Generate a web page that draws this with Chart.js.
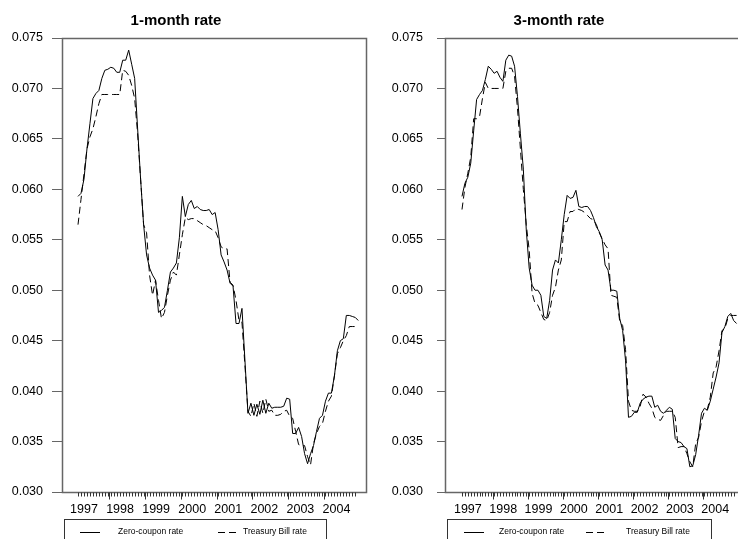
<!DOCTYPE html>
<html>
<head>
<meta charset="utf-8">
<script src="https://cdn.jsdelivr.net/npm/chart.js@4/dist/chart.umd.min.js"></script>
<style>
  html, body { margin: 0; padding: 0; background: #fff; overflow: hidden; width: 738px; height: 539px; }
  body { position: relative; font-family: "Liberation Sans", Arial, sans-serif; }
  canvas { position: absolute; top: 0; }
  #cL { left: 0; }
  #cR { left: 368px; }
  .title { position: absolute; top: 11px; font-weight: bold; font-size: 15px; transform: translateX(-50%); white-space: nowrap; color: #000; }
  .legend { position: absolute; top: 519px; height: 30px; border: 1px solid #333; font-size: 8.5px; color: #000; }
  .legend span { position: absolute; top: 6px; white-space: nowrap; }
  .legend .solid { position: absolute; top: 12px; width: 20px; border-top: 1px solid #000; }
  .legend svg { position: absolute; top: 9px; }
</style>
</head>
<body>

<canvas id="cL" width="368" height="539"></canvas>
<canvas id="cR" width="384" height="539"></canvas>

<div class="title" style="left:176px">1-month rate</div>
<div class="title" style="left:559px">3-month rate</div>

<div class="legend" style="left:64px; width:261px">
  <div class="solid" style="left:15px"></div><span style="left:53px">Zero-coupon rate</span>
  <svg style="left:153px" width="20" height="6"><line x1="0" y1="3.5" x2="20" y2="3.5" stroke="#000" stroke-width="1" stroke-dasharray="7,4"/></svg>
  <span style="left:178px">Treasury Bill rate</span>
</div>
<div class="legend" style="left:447px; width:263px">
  <div class="solid" style="left:16px"></div><span style="left:51px">Zero-coupon rate</span>
  <svg style="left:138px" width="20" height="6"><line x1="0" y1="3.5" x2="20" y2="3.5" stroke="#000" stroke-width="1" stroke-dasharray="7,4"/></svg>
  <span style="left:178px">Treasury Bill rate</span>
</div>

<script>
/* ── Monthly observations, index 0 = first month shown ── */
const months = Array.from({ length: 95 }, (_, i) => i);

const oneMonthZero = [
  0.0593, 0.0596, 0.0610, 0.0640, 0.0665, 0.0690, 0.0695, 0.0698, 0.0710, 0.0718,
  0.0719, 0.0721, 0.0720, 0.0716, 0.0716, 0.0728, 0.0728, 0.0738, 0.0724, 0.0710,
  0.0660, 0.0610, 0.0565, 0.0535, 0.0522, 0.0515, 0.0510, 0.0478, 0.0480, 0.0483,
  0.0500, 0.0518, 0.0522, 0.0527, 0.0552, 0.0593, 0.0573, 0.0585, 0.0589, 0.0581,
  0.0583, 0.0580, 0.0579, 0.0579, 0.0580, 0.0575, 0.0577, 0.0560, 0.0535, 0.0528,
  0.0520, 0.0507, 0.0504, 0.0467, 0.0467, 0.0482, 0.0430, 0.0378, 0.0388, 0.0376,
  0.0387, 0.0377, 0.0391, 0.0378, 0.0388, 0.0383, 0.0384, 0.0384, 0.0384, 0.0385,
  0.0393, 0.0392, 0.0358, 0.0358, 0.0364, 0.0355, 0.0338, 0.0328, 0.0338, 0.0346,
  0.0360, 0.0373, 0.0376, 0.0390, 0.0398, 0.0398, 0.0415, 0.0440, 0.0450, 0.0452,
  0.0475, 0.0475, 0.0474, 0.0473, 0.0470
];
const oneMonthBill = [
  0.0565, 0.0590, 0.0615, 0.0640, 0.0652, 0.0660, 0.0672, 0.0685, 0.0694, 0.0694,
  0.0694, 0.0694, 0.0694, 0.0694, 0.0694, 0.0718, 0.0717, 0.0713, 0.0703, 0.0690,
  0.0655, 0.0610, 0.0565, 0.0557, 0.0515, 0.0495, 0.0510, 0.0490, 0.0472, 0.0478,
  0.0495, 0.0510, 0.0518, 0.0515, 0.0535, 0.0555, 0.0572, 0.0570, 0.0571, 0.0571,
  0.0569, 0.0567, 0.0565, 0.0564, 0.0562, 0.0560, 0.0559, 0.0552, 0.0543, 0.0541,
  0.0541, 0.0508, 0.0505, 0.0490, 0.0470, 0.0468, 0.0425, 0.0380, 0.0375, 0.0388,
  0.0375, 0.0390, 0.0378, 0.0392, 0.0380, 0.0381, 0.0376, 0.0376, 0.0377, 0.0380,
  0.0381, 0.0375, 0.0373, 0.0360, 0.0347, 0.0346, 0.0346, 0.0335, 0.0327, 0.0348,
  0.0358, 0.0365, 0.0368, 0.0380, 0.0390, 0.0395, 0.0415, 0.0437, 0.0443, 0.0450,
  0.0455, 0.0464, 0.0464, 0.0464, 0.0464
];
const threeMonthZero = [
  0.0593, 0.0606, 0.0612, 0.0626, 0.0658, 0.0689, 0.0694, 0.0698, 0.0709, 0.0722,
  0.0719, 0.0715, 0.0717, 0.0711, 0.0707, 0.0728, 0.0733, 0.0732, 0.0722, 0.0692,
  0.0655, 0.0620, 0.0560, 0.0522, 0.0505, 0.0500, 0.0500, 0.0495, 0.0474, 0.0472,
  0.0490, 0.0520, 0.0530, 0.0527, 0.0550, 0.0575, 0.0594, 0.0591, 0.0592, 0.0599,
  0.0583, 0.0582, 0.0583, 0.0583, 0.0579, 0.0572, 0.0563, 0.0558, 0.0550, 0.0525,
  0.0520, 0.0500, 0.0500, 0.0499, 0.0472, 0.0460, 0.0430, 0.0374, 0.0375, 0.0379,
  0.0379, 0.0388, 0.0392, 0.0394, 0.0395, 0.0395, 0.0384, 0.0386, 0.0380, 0.0378,
  0.0381, 0.0384, 0.0382, 0.0353, 0.0350, 0.0349, 0.0345, 0.0343, 0.0325, 0.0326,
  0.0337, 0.0356, 0.0378, 0.0383, 0.0381, 0.0390, 0.0402, 0.0414, 0.0428, 0.0458,
  0.0464, 0.0474, 0.0477, 0.0470, 0.0467
];
const threeMonthBill = [
  0.0580, 0.0602, 0.0616, 0.0632, 0.0670, 0.0670, 0.0672, 0.0690, 0.0706, 0.0700,
  0.0700, 0.0700, 0.0700, 0.0700, 0.0700, 0.0717, 0.0720, 0.0720, 0.0712, 0.0680,
  0.0640, 0.0600, 0.0565, 0.0540, 0.0497, 0.0487, 0.0485, 0.0478, 0.0471, 0.0470,
  0.0478, 0.0495, 0.0503, 0.0520, 0.0530, 0.0568, 0.0568, 0.0578, 0.0578, 0.0581,
  0.0580, 0.0579, 0.0577, 0.0574, 0.0571, 0.0570, 0.0565, 0.0557, 0.0551, 0.0545,
  0.0541, 0.0495, 0.0494, 0.0493, 0.0469, 0.0465, 0.0441, 0.0390, 0.0381, 0.0380,
  0.0380, 0.0385, 0.0397, 0.0394, 0.0388, 0.0383, 0.0374, 0.0372, 0.0371, 0.0376,
  0.0380, 0.0380, 0.0380, 0.0374, 0.0344, 0.0345, 0.0345, 0.0338, 0.0330, 0.0325,
  0.0348, 0.0354, 0.0370, 0.0380, 0.0382, 0.0394, 0.0418, 0.0424, 0.0440, 0.0460,
  0.0462, 0.0472, 0.0475, 0.0475, 0.0475
];

/* ── Axis labels ── */
const yearLabels   = ['1997', '1998', '1999', '2000', '2001', '2002', '2003', '2004'];
const yearLabelPos = [2, 14.1, 26.2, 38.3, 50.4, 62.5, 74.6, 86.7];   // in months
const majorTickPos = [10.5, 22.5, 34.5, 46.5, 58.5, 70.5, 82.5];
const minorTickPos = Array.from({ length: 94 }, (_, i) => i);
const yTicks       = [0.030, 0.035, 0.040, 0.045, 0.050, 0.055, 0.060, 0.065, 0.070, 0.075];

const FONT = "'Liberation Sans', Arial, sans-serif";
const FRAME = '#666';

/* ── Box round the plot area + monthly tick marks on the time axis ── */
const framePlugin = {
  id: 'frame',
  afterDraw(chart) {
    const { ctx, chartArea: a, scales } = chart;
    ctx.save();
    ctx.strokeStyle = FRAME;
    ctx.lineWidth = 1.5;
    ctx.strokeRect(Math.round(a.left) + 0.5, Math.round(a.top) + 0.5,
                   Math.round(a.right - a.left), Math.round(a.bottom - a.top));
    const xs = scales.x;
    const base = Math.round(a.bottom) + 0.5;
    ctx.lineWidth = 1;
    ctx.strokeStyle = '#333';
    ctx.beginPath();
    minorTickPos.forEach(t => {
      const px = Math.round(xs.getPixelForValue(t)) + 0.5;
      ctx.moveTo(px, base); ctx.lineTo(px, base + 4);
    });
    majorTickPos.forEach(t => {
      const px = Math.round(xs.getPixelForValue(t)) + 0.5;
      ctx.moveTo(px, base); ctx.lineTo(px, base + 7);
    });
    ctx.stroke();
    ctx.restore();
  },
};

function series(values, dashed) {
  return {
    data: months.map((m, i) => ({ x: m, y: values[i] })),
    borderColor: '#000',
    borderWidth: 1,
    borderDash: dashed ? [7, 4] : [],
    pointRadius: 0,
    tension: 0,
    fill: false,
  };
}

function buildPanel(id, zero, bill, opt) {
  new Chart(document.getElementById(id), {
    type: 'line',
    data: { datasets: [series(zero, false), series(bill, true)] },
    plugins: [framePlugin],
    options: {
      responsive: false,
      animation: false,
      layout: { padding: { left: 0, top: 38, right: opt.padRight, bottom: 0 } },
      plugins: { legend: { display: false }, tooltip: { enabled: false } },
      scales: {
        x: {
          type: 'linear',
          min: opt.xMin,
          max: opt.xMax,
          afterFit: s => { s.height = 47; },
          afterBuildTicks: s => { s.ticks = yearLabelPos.map(v => ({ value: v })); },
          grid: { display: false },
          border: { display: false },
          ticks: {
            autoSkip: false,
            maxRotation: 0,
            padding: 2,
            color: '#000',
            font: { family: FONT, size: 12.5 },
            callback: (v, i) => yearLabels[i],
          },
        },
        y: {
          min: 0.030,
          max: 0.075,
          afterFit: s => { s.width = opt.yWidth; },
          afterBuildTicks: s => { s.ticks = yTicks.map(v => ({ value: v })); },
          grid: { drawOnChartArea: false, drawTicks: true, tickLength: opt.tickLen, color: FRAME },
          border: { display: false },
          ticks: {
            padding: opt.tickPad,
            color: '#000',
            font: { family: FONT, size: 12.5 },
            callback: v => v.toFixed(3),
          },
        },
      },
    },
  });
}

buildPanel('cL', oneMonthZero, oneMonthBill,
  { xMin: -5.37, xMax: 96.6, padRight: 2, yWidth: 62, tickLen: 10, tickPad: 9 });
buildPanel('cR', threeMonthZero, threeMonthBill,
  { xMin: -5.82, xMax: 98.6, padRight: 2, yWidth: 77, tickLen: 8, tickPad: 14 });
</script>
</body>
</html>
